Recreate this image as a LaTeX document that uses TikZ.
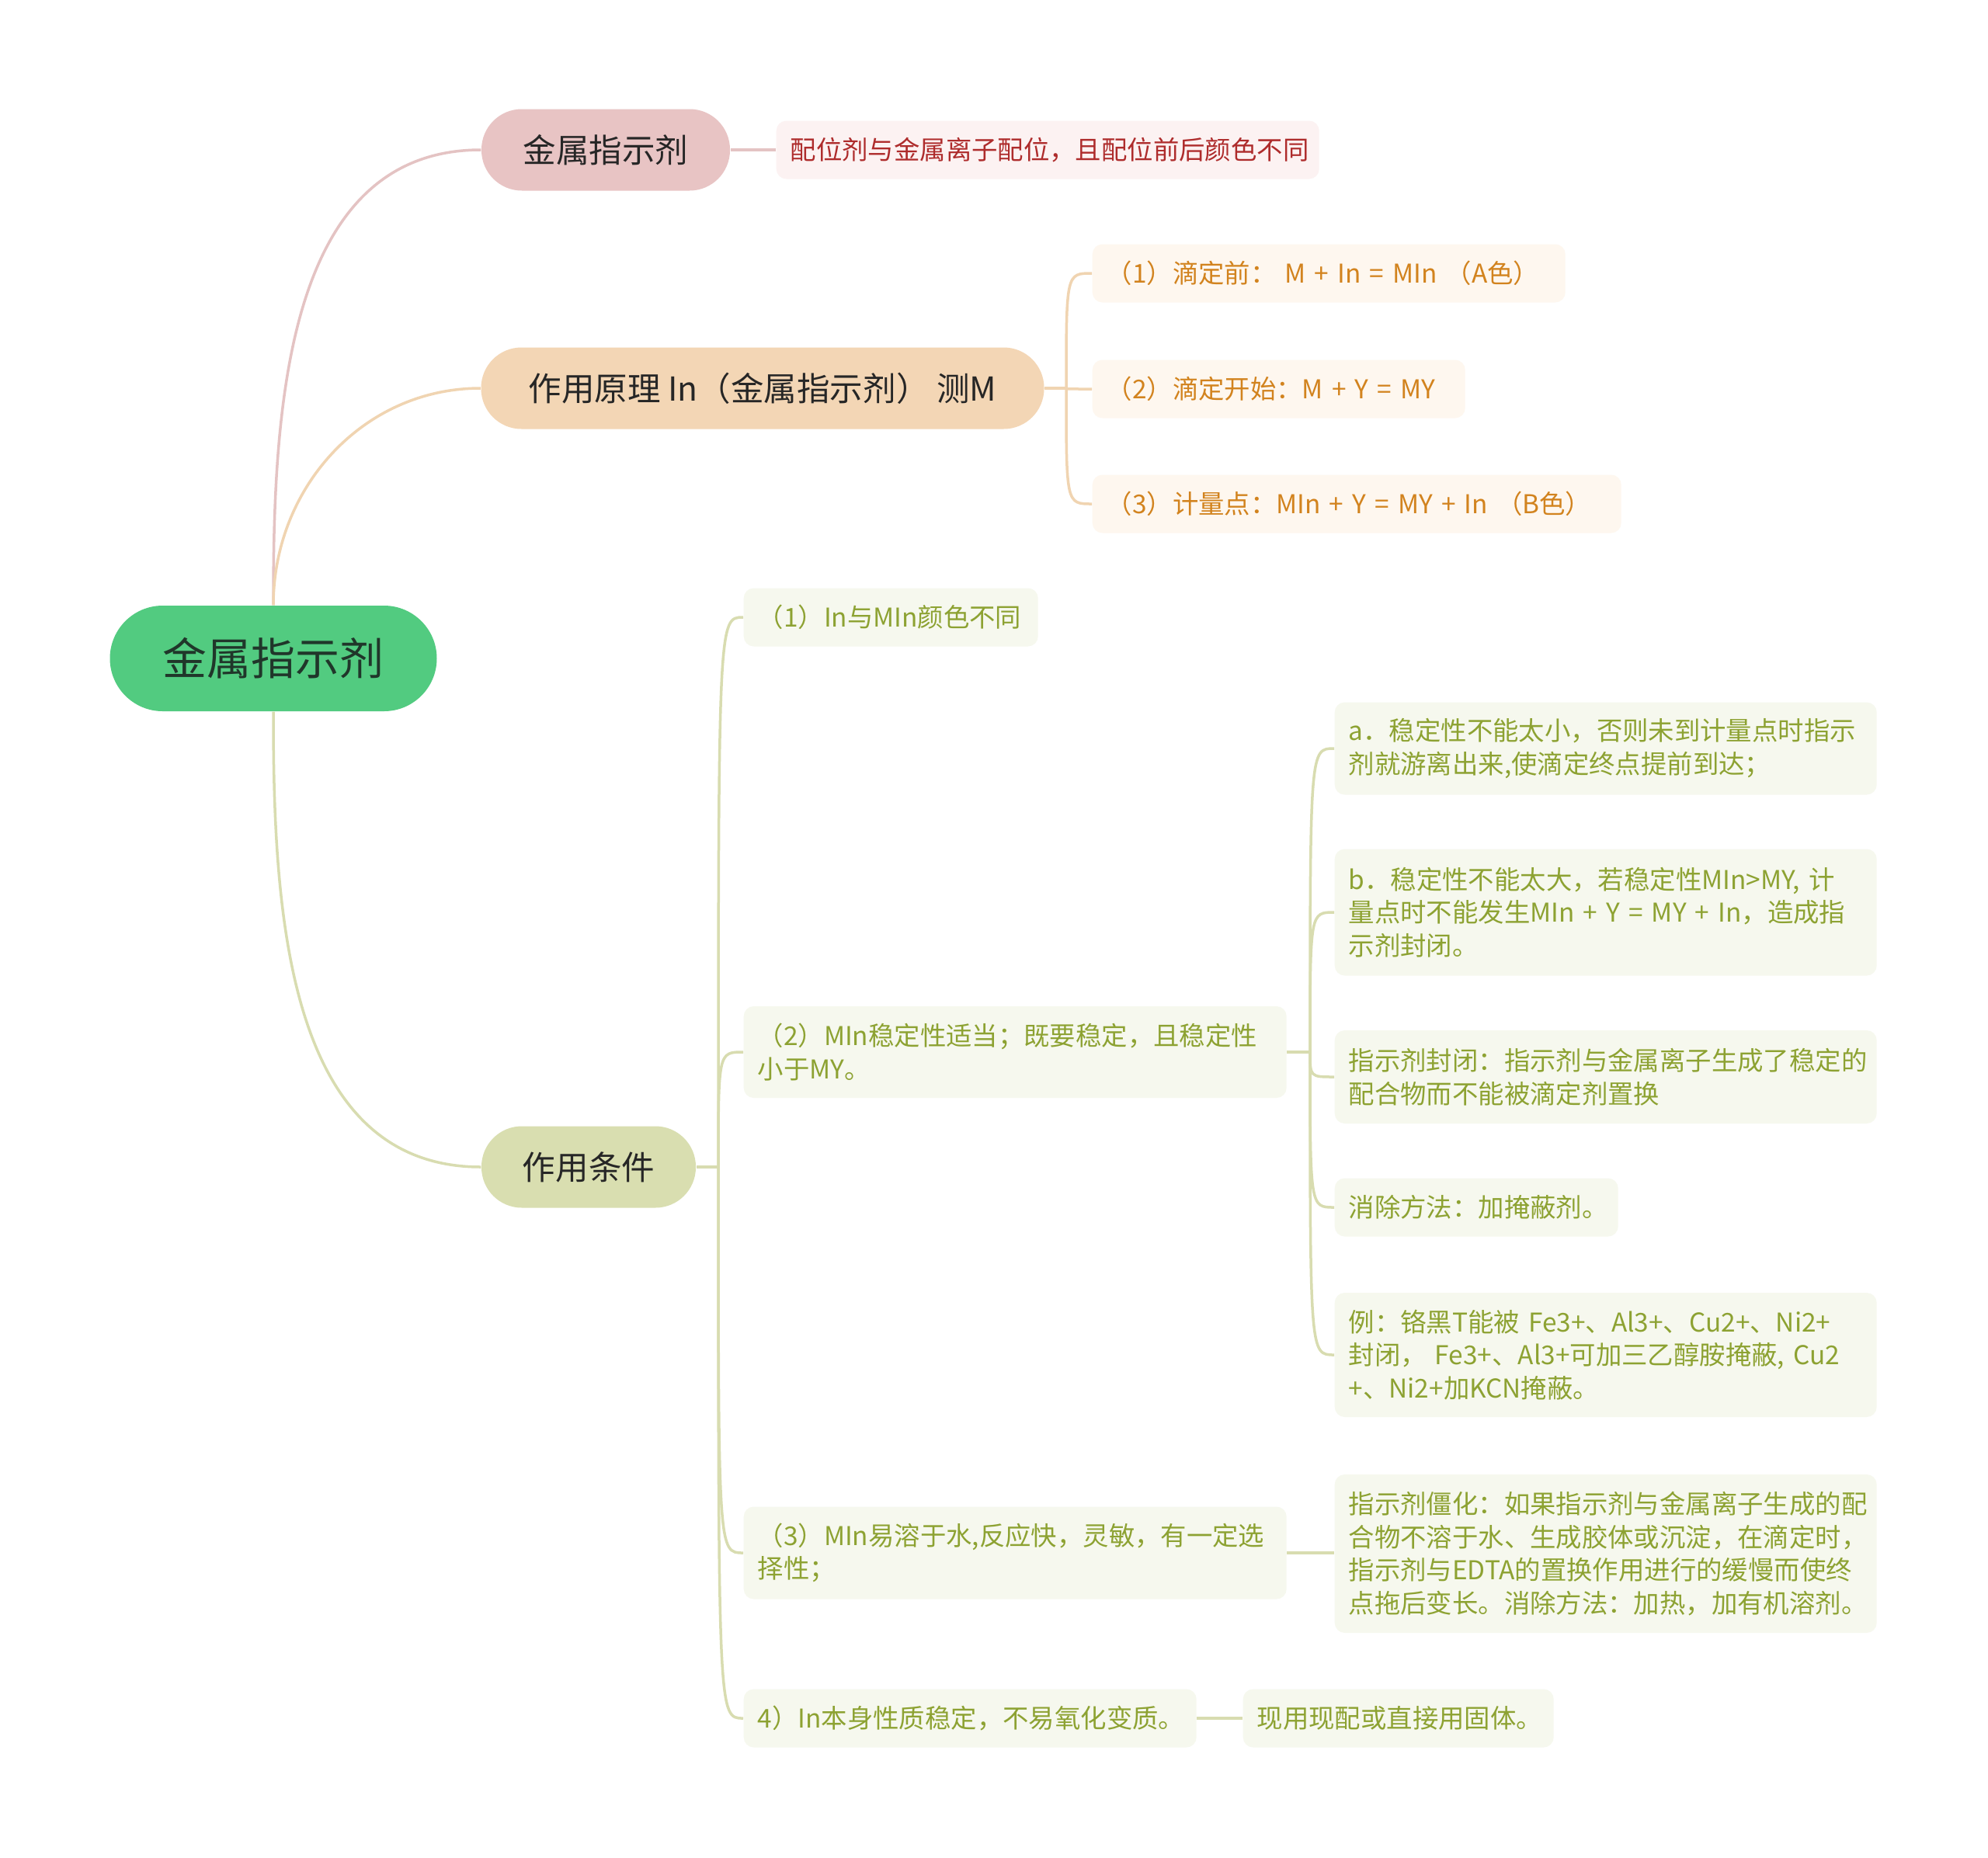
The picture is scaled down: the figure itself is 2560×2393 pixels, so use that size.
\documentclass[tikz,border=0pt]{standalone}
\usepackage{fontspec}
\setmainfont{Noto Sans CJK SC}
\definecolor{rootfill}{HTML}{52CB80}
\definecolor{roottext}{HTML}{20362A}
\definecolor{pinkfill}{HTML}{E8C4C4}
\definecolor{pinkline}{HTML}{E4C3C3}
\definecolor{pinkleaf}{HTML}{FCF2F2}
\definecolor{pinktext}{HTML}{AE2C2C}
\definecolor{peachfill}{HTML}{F3D6B5}
\definecolor{peachline}{HTML}{F0D4B1}
\definecolor{peachleaf}{HTML}{FEF7EF}
\definecolor{peachtext}{HTML}{D2831E}
\definecolor{olivefill}{HTML}{D9DEB0}
\definecolor{oliveline}{HTML}{D8DCB0}
\definecolor{oliveleaf}{HTML}{F6F8EE}
\definecolor{olivetext}{HTML}{8DA232}
\begin{document}
\begin{tikzpicture}[x=0.1mm,y=-0.1mm,
  rootbox/.style={fill=rootfill,text=roottext,rounded corners=6.8mm,minimum width=42.1mm,minimum height=13.6mm,font=\fontsize{16.2}{19}\selectfont},
  topicbox/.style={text=black!85,rounded corners=5.2mm,minimum height=10.5mm,font=\fontsize{12.1}{14.5}\selectfont},
  leafbox/.style={anchor=west,align=left,rounded corners=1.3mm,inner xsep=1.8mm,inner ysep=0pt,minimum height=7.5mm,text width=#1,font=\fontsize{9.5}{12.1}\selectfont},
  link/.style={line width=0.35mm,draw=#1}]
  \useasboundingbox[fill=white] (0,0) rectangle (2560,2393);

  \node[rootbox] (root) at (352,848) {金属指示剂};

  \node[topicbox,fill=pinkfill,minimum width=32mm] (def) at (780,193) {金属指示剂};
  \node[leafbox=66.3mm,fill=pinkleaf,text=pinktext] (defa) at (999,193) {配位剂与金属离子配位，且配位前后颜色不同};

  \node[topicbox,fill=peachfill,minimum width=72.5mm] (work) at (982,500) {作用原理 In（金属指示剂） 测M};
  \node[leafbox=57.3mm,fill=peachleaf,text=peachtext] (work1) at (1406,352) {（1）滴定前：  M + In = MIn （A色）};
  \node[leafbox=44.4mm,fill=peachleaf,text=peachtext] (work2) at (1406,501) {（2）滴定开始：M + Y = MY};
  \node[leafbox=64.5mm,fill=peachleaf,text=peachtext] (work3) at (1406,649) {（3）计量点：MIn + Y = MY + In （B色）};

  \node[topicbox,fill=olivefill,minimum width=27.6mm] (cond) at (758,1503) {作用条件};
  \node[leafbox=34.3mm,fill=oliveleaf,text=olivetext] (cond1) at (957,795) {（1）In与MIn颜色不同};
  \node[leafbox=66.3mm,fill=oliveleaf,text=olivetext,minimum height=11.8mm] (cond2) at (957,1355) {（2）MIn稳定性适当；既要稳定，且稳定性\\小于MY。};
  \node[leafbox=66.3mm,fill=oliveleaf,text=olivetext,minimum height=11.9mm] (cond3) at (957,2000) {（3）MIn易溶于水,反应快，灵敏，有一定选\\择性；};
  \node[leafbox=54.7mm,fill=oliveleaf,text=olivetext] (cond4) at (957,2213) {4）In本身性质稳定，不易氧化变质。};

  \node[leafbox=66.2mm,fill=oliveleaf,text=olivetext,minimum height=11.9mm] (stab1) at (1718,964) {a．稳定性不能太小，否则未到计量点时指示\\剂就游离出来,使滴定终点提前到达；};
  \node[leafbox=66.2mm,fill=oliveleaf,text=olivetext,minimum height=16.3mm] (stab2) at (1718,1175) {b．稳定性不能太大，若稳定性MIn>MY, 计\\量点时不能发生MIn + Y = MY + In，造成指\\示剂封闭。};
  \node[leafbox=66.2mm,fill=oliveleaf,text=olivetext,minimum height=12mm] (stab3) at (1718,1387) {指示剂封闭：指示剂与金属离子生成了稳定的\\配合物而不能被滴定剂置换};
  \node[leafbox=32.9mm,fill=oliveleaf,text=olivetext] (stab4) at (1718,1555) {消除方法：加掩蔽剂。};
  \node[leafbox=66.2mm,fill=oliveleaf,text=olivetext,minimum height=16mm] (stab5) at (1718,1745) {例：铬黑T能被 Fe3+、Al3+、Cu2+、Ni2+\\封闭，  Fe3+、Al3+可加三乙醇胺掩蔽, Cu2\\+、Ni2+加KCN掩蔽。};
  \node[leafbox=66.2mm,fill=oliveleaf,text=olivetext,minimum height=20.4mm] (solv) at (1718,2001) {指示剂僵化：如果指示剂与金属离子生成的配\\合物不溶于水、生成胶体或沉淀，在滴定时，\\指示剂与EDTA的置换作用进行的缓慢而使终\\点拖后变长。消除方法：加热，加有机溶剂。};
  \node[leafbox=36.4mm,fill=oliveleaf,text=olivetext] (fresh) at (1600,2213) {现用现配或直接用固体。};

  \draw[link=pinkline] (root.north) to[out=90,in=180] (def.west);
  \draw[link=peachline] (root.north) to[out=90,in=180] (work.west);
  \draw[link=oliveline] (root.south) to[out=-90,in=180] (cond.west);

  \draw[link=pinkline] (def.east) -- (defa.west);

  \coordinate (jwork) at (1373,500);
  \draw[link=peachline] (work.east) -- (jwork);
  \foreach \n in {work1,work2,work3}
    \draw[link=peachline] (jwork) .. controls (jwork |- \n.west) .. (\n.west);

  \coordinate (jcond) at (925,1503);
  \draw[link=oliveline] (cond.east) -- (jcond);
  \foreach \n in {cond1,cond2,cond3,cond4}
    \draw[link=oliveline] (jcond) .. controls (jcond |- \n.west) .. (\n.west);

  \coordinate (jstab) at (1687,1355);
  \draw[link=oliveline] (cond2.east) -- (jstab);
  \foreach \n in {stab1,stab2,stab3,stab4,stab5}
    \draw[link=oliveline] (jstab) .. controls (jstab |- \n.west) .. (\n.west);

  \draw[link=oliveline] (cond3.east) -- (cond3.east -| solv.west);
  \draw[link=oliveline] (cond4.east) -- (fresh.west);
\end{tikzpicture}
\end{document}
